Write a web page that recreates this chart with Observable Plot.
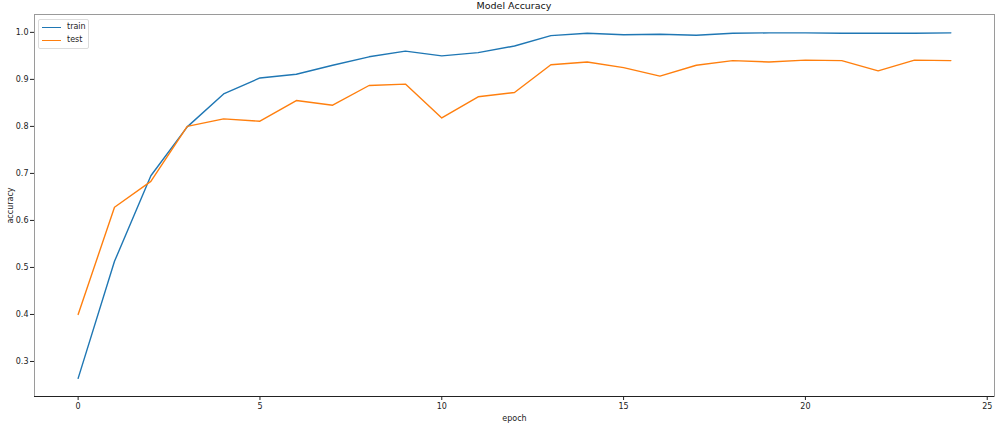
<!DOCTYPE html>
<html>
<head>
<meta charset="utf-8">
<script src="https://cdn.jsdelivr.net/npm/d3@7"></script>
<script src="https://cdn.jsdelivr.net/npm/@observablehq/plot@0.6"></script>
<style>
  html, body { margin: 0; padding: 0; background: #fff; }
  body { width: 1000px; height: 425px; overflow: hidden; position: relative; font-family: "DejaVu Sans", sans-serif; }
  #title { height: 12px; line-height: 12px; font-size: 9.5px; color: #111; text-align: center; padding-left: 34px; padding-right: 6px; box-sizing: border-box; width: 1000px; }
  #legend { position: absolute; left: 38px; top: 19px; width: 51px; height: 30px; border: 1px solid #dcdcdc; border-radius: 2px; background: rgba(255,255,255,0.8); font-size: 8px; color: #222; box-sizing: border-box; }
  .row { position: absolute; left: 0; height: 10px; line-height: 10px; }
  .sw { position: absolute; left: 3px; top: 4.5px; width: 19px; height: 0; border-top: 1.5px solid; }
  .lb { position: absolute; left: 28px; top: 0; white-space: nowrap; }
</style>
</head>
<body>
<div id="title">Model Accuracy</div>
<div id="chart"></div>
<div id="legend"></div>
<script>
const epochs = d3.range(0, 25);
const trainAcc = [0.264, 0.513, 0.695, 0.799, 0.869, 0.903, 0.911, 0.930, 0.948, 0.960, 0.950, 0.957, 0.971, 0.993, 0.998, 0.995, 0.996, 0.994, 0.998, 0.999, 0.999, 0.998, 0.998, 0.998, 0.999];
const testAcc  = [0.400, 0.628, 0.683, 0.800, 0.816, 0.811, 0.855, 0.845, 0.887, 0.890, 0.818, 0.863, 0.872, 0.931, 0.937, 0.925, 0.907, 0.930, 0.940, 0.937, 0.941, 0.940, 0.918, 0.941, 0.940];
const seriesNames = ["train", "test"];
const seriesColors = ["#1f77b4", "#ff7f0e"];
const xTicks = [0, 5, 10, 15, 20, 25];
const yTicks = [0.3, 0.4, 0.5, 0.6, 0.7, 0.8, 0.9, 1.0];
const xDomain = [-1.2, 25.2];
const yDomain = [0.2255, 1.038];

const rows = [];
epochs.forEach((e, i) => {
  rows.push({epoch: e, acc: trainAcc[i], series: "train"});
  rows.push({epoch: e, acc: testAcc[i], series: "test"});
});

const chart = Plot.plot({
  width: 1000,
  height: 413,
  marginLeft: 34,
  marginRight: 6,
  marginTop: 2,
  marginBottom: 29,
  style: {fontFamily: "DejaVu Sans, sans-serif", fontSize: "8px", color: "#222", background: "#fff"},
  x: {domain: xDomain, ticks: xTicks, tickFormat: d3.format("d"), tickSize: 4, tickPadding: 3, label: "epoch", labelAnchor: "center", labelArrow: "none", labelOffset: 24},
  y: {domain: yDomain, ticks: yTicks, tickFormat: d3.format(".1f"), tickSize: 4, tickPadding: 2, label: "accuracy", labelAnchor: "center", labelArrow: "none", labelOffset: 27},
  color: {domain: seriesNames, range: seriesColors},
  marks: [
    Plot.frame({stroke: "#9a9a9a", strokeWidth: 1}),
    Plot.ruleY([yDomain[0]], {stroke: "#222", strokeWidth: 1.2}),
    Plot.line(rows, {x: "epoch", y: "acc", z: "series", stroke: "series", strokeWidth: 1.4, curve: "linear"})
  ]
});
document.getElementById("chart").appendChild(chart);

const legend = document.getElementById("legend");
seriesNames.forEach((name, i) => {
  const row = document.createElement("div");
  row.className = "row";
  row.style.top = (2 + i * 13) + "px";
  row.style.width = "100%";
  const sw = document.createElement("div");
  sw.className = "sw";
  sw.style.borderTopColor = seriesColors[i];
  const lb = document.createElement("div");
  lb.className = "lb";
  lb.textContent = name;
  row.appendChild(sw);
  row.appendChild(lb);
  legend.appendChild(row);
});
</script>
</body>
</html>
